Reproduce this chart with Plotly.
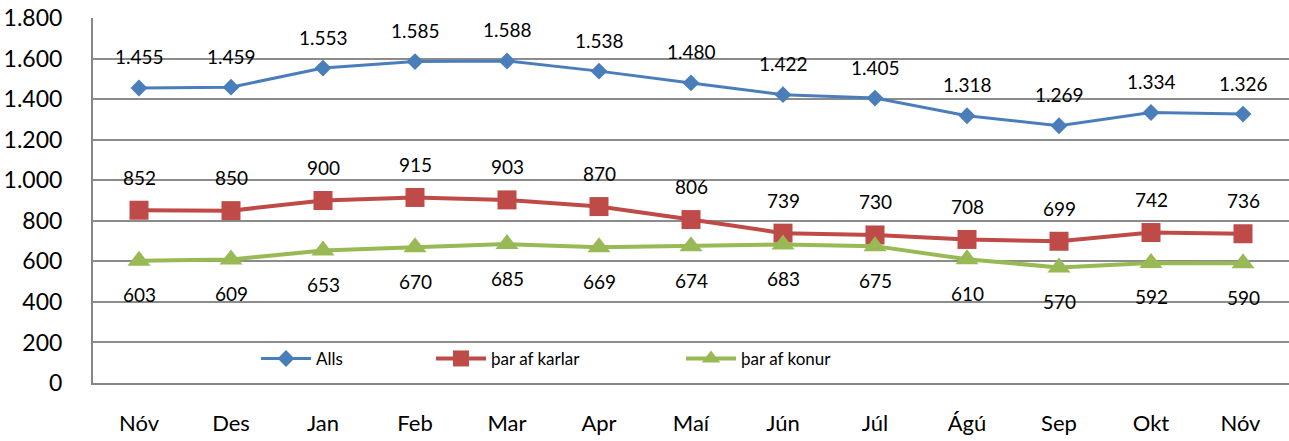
import plotly.graph_objects as go

months = ["Nóv", "Des", "Jan", "Feb", "Mar", "Apr", "Maí", "Jún", "Júl", "Ágú", "Sep", "Okt", "Nóv "]
alls = [1455, 1459, 1553, 1585, 1588, 1538, 1480, 1422, 1405, 1318, 1269, 1334, 1326]
karlar = [852, 850, 900, 915, 903, 870, 806, 739, 730, 708, 699, 742, 736]
konur = [603, 609, 653, 670, 685, 669, 674, 683, 675, 610, 570, 592, 590]
y_ticks = [0, 200, 400, 600, 800, 1000, 1200, 1400, 1600, 1800]

FONT = "Lato"

def fmt(v):
    return f"{v:,}".replace(",", ".")

fig = go.Figure()
fig.add_trace(go.Scatter(x=months, y=alls, name="Alls", mode="lines+markers",
                         line=dict(color="#4A7EBB", width=3),
                         marker=dict(symbol="diamond", size=13, color="#4A7EBB"),
                         legend="legend", showlegend=True))
fig.add_trace(go.Scatter(x=months, y=karlar, name="þar af karlar", mode="lines+markers",
                         line=dict(color="#BE4B48", width=4),
                         marker=dict(symbol="square", size=19, color="#BE4B48"),
                         legend="legend2", showlegend=True))
fig.add_trace(go.Scatter(x=months, y=konur, name="þar af konur", mode="lines+markers",
                         line=dict(color="#98B954", width=4),
                         marker=dict(symbol="triangle-up", size=20, color="#98B954"),
                         legend="legend3", showlegend=True))

ann = []
for m, v in zip(months, alls):
    ann.append(dict(x=m, y=v, text=fmt(v), showarrow=False, yshift=31,
                    font=dict(size=19, color="#000", family=FONT)))
for m, v in zip(months, karlar):
    ann.append(dict(x=m, y=v, text=fmt(v), showarrow=False, yshift=33,
                    font=dict(size=19, color="#000", family=FONT)))
for m, v in zip(months, konur):
    ann.append(dict(x=m, y=v, text=fmt(v), showarrow=False, yshift=-34,
                    font=dict(size=19, color="#000", family=FONT)))

leg_common = dict(orientation="h", yanchor="middle", y=0.066, xanchor="left",
                  bgcolor="rgba(0,0,0,0)", font=dict(size=17, family=FONT, color="#000"),
                  itemwidth=50)

fig.update_layout(
    width=1289, height=441,
    margin=dict(l=93, r=0, t=18, b=58),
    paper_bgcolor="white", plot_bgcolor="white",
    separators=",.",
    showlegend=True,
    font=dict(family=FONT, color="#000"),
    annotations=ann,
    legend=dict(**leg_common, x=(256 - 93) / 1196),
    legend2=dict(**leg_common, x=(431 - 93) / 1196),
    legend3=dict(**leg_common, x=(681 - 93) / 1196),
    xaxis=dict(range=[-0.5, 12.5], showgrid=False, showline=True, linecolor="#868686",
               linewidth=2, ticks="", tickfont=dict(size=22, family=FONT, color="#000"),
               ticklabelstandoff=20),
    yaxis=dict(range=[0, 1800], tickvals=y_ticks, tickformat=",d", showgrid=True,
               gridcolor="#8c8c8c", gridwidth=1.5, showline=True, linecolor="#868686",
               linewidth=2, ticks="", zeroline=False,
               tickfont=dict(size=23, family=FONT, color="#000"), ticklabelstandoff=24),
)

fig.write_html("out.html", config={"displayModeBar": False},
               post_script="document.body.style.margin='0';")
